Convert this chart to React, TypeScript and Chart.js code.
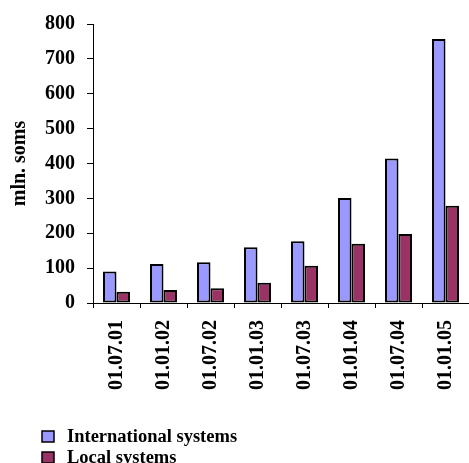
import React, { useEffect, useRef } from 'react';
import { Chart, registerables } from 'chart.js';

Chart.register(...registerables);

const categories = ['01.07.01', '01.01.02', '01.07.02', '01.01.03', '01.07.03', '01.01.04', '01.07.04', '01.01.05'];
const internationalSystems = [90, 112, 117, 160, 177, 301, 414, 757];
const localSystems = [32, 37, 42, 58, 107, 170, 198, 279];
const yTickValues = [0, 100, 200, 300, 400, 500, 600, 700, 800];
const seriesNames = ['International systems', 'Local systems'];
const seriesColors = ['#9999FF', '#993366'];
const yAxisTitle = 'mln. soms';

const FONT = '"Liberation Serif", "Times New Roman", serif';

export default function App() {
  const ref = useRef<HTMLCanvasElement>(null);

  useEffect(() => {
    if (!ref.current) return;
    const legendPlugin = {
      id: 'stackedLegend',
      afterDraw(chart: any) {
        const ctx = chart.ctx as CanvasRenderingContext2D;
        ctx.save();
        chart.data.datasets.forEach((ds: any, i: number) => {
          const y = 431 + i * 21;
          ctx.fillStyle = ds.backgroundColor;
          ctx.fillRect(42, y, 12, 11);
          ctx.lineWidth = 1.5;
          ctx.strokeStyle = '#000';
          ctx.strokeRect(42, y, 12, 11);
          ctx.fillStyle = '#000';
          ctx.font = `bold 18.5px ${FONT}`;
          ctx.textBaseline = 'middle';
          ctx.textAlign = 'left';
          ctx.fillText(ds.label, 67, y + 6);
        });
        ctx.restore();
      },
    };

    const chart = new Chart(ref.current, {
      type: 'bar',
      data: {
        labels: categories,
        datasets: [
          {
            label: seriesNames[0],
            data: internationalSystems,
            backgroundColor: seriesColors[0],
            borderColor: '#000',
            borderWidth: 2,
            borderSkipped: false,
            barPercentage: 1,
            categoryPercentage: 0.574,
          },
          {
            label: seriesNames[1],
            data: localSystems,
            backgroundColor: seriesColors[1],
            borderColor: '#000',
            borderWidth: 2,
            borderSkipped: false,
            barPercentage: 1,
            categoryPercentage: 0.574,
          },
        ],
      },
      options: {
        responsive: false,
        animation: false,
        devicePixelRatio: 1,
        layout: { padding: { top: 24, left: 0, right: 0, bottom: 0 } },
        plugins: {
          legend: { display: false },
          tooltip: { enabled: false },
        },
        scales: {
          x: {
            type: 'category',
            offset: true,
            grid: {
              display: true,
              offset: true,
              drawOnChartArea: false,
              drawTicks: true,
              tickLength: 5,
              color: '#000',
            },
            border: { display: true, color: '#000', width: 1 },
            ticks: {
              minRotation: 90,
              maxRotation: 90,
              autoSkip: false,
              padding: 12,
              color: '#000',
              font: { family: FONT, size: 20, weight: 'bold' },
            },
            afterFit: (s: any) => {
              s.height = 160;
              s.paddingLeft = 0;
              s.paddingRight = 0;
            },
          },
          y: {
            min: 0,
            max: 800,
            afterBuildTicks: (s: any) => {
              s.ticks = yTickValues.map((v) => ({ value: v }));
            },
            grid: {
              drawOnChartArea: false,
              drawTicks: true,
              tickLength: 6,
              color: '#000',
            },
            border: { display: true, color: '#000', width: 1 },
            ticks: {
              padding: 12,
              color: '#000',
              font: { family: FONT, size: 20, weight: 'bold' },
            },
            title: {
              display: true,
              text: yAxisTitle,
              color: '#000',
              font: { family: FONT, size: 20, weight: 'bold' },
              padding: { top: 8, bottom: 0 },
            },
            afterFit: (s: any) => {
              s.width = 93;
              s.paddingTop = 0;
              s.paddingBottom = 0;
            },
          },
        },
      },
      plugins: [legendPlugin],
    });
    return () => chart.destroy();
  }, []);

  return (
    <div style={{ position: 'absolute', left: 0, top: 0, width: 469, height: 463, background: '#fff' }}>
      <canvas ref={ref} width={469} height={463} style={{ display: 'block' }} />
    </div>
  );
}
